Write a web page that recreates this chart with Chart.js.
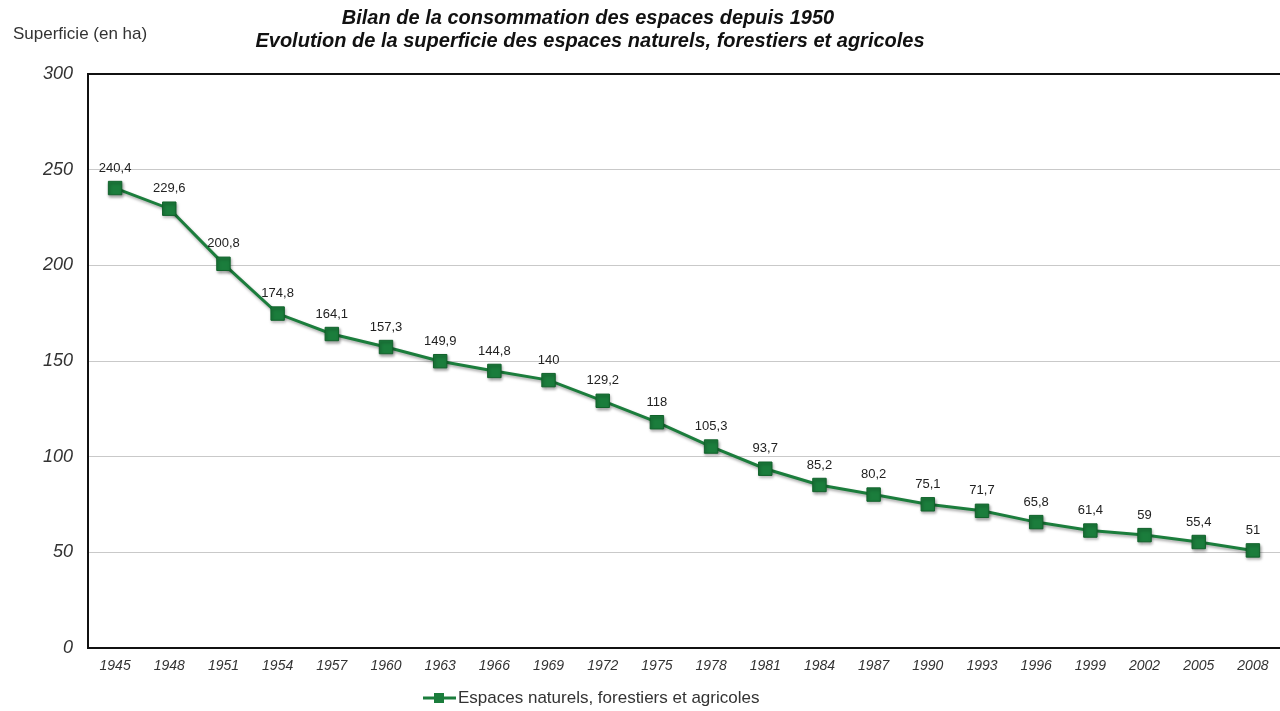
<!DOCTYPE html>
<html>
<head>
<meta charset="utf-8">
<script src="https://cdn.jsdelivr.net/npm/chart.js@4.4.1/dist/chart.umd.min.js"></script>
<style>
  html, body { margin: 0; padding: 0; background: #fff; }
  #wrap { width: 1280px; height: 711px; position: relative; }
</style>
</head>
<body>
<div id="wrap"><canvas id="c" width="1280" height="711"></canvas></div>
<script>
// Années (axe des abscisses)
const years = ['1945','1948','1951','1954','1957','1960','1963','1966','1969','1972','1975',
               '1978','1981','1984','1987','1990','1993','1996','1999','2002','2005','2008'];
// Superficie des espaces naturels, forestiers et agricoles (ha)
const superficie = [240.4, 229.6, 200.8, 174.8, 164.1, 157.3, 149.9, 144.8, 140, 129.2, 118,
                    105.3, 93.7, 85.2, 80.2, 75.1, 71.7, 65.8, 61.4, 59, 55.4, 51];
const seriesName = 'Espaces naturels, forestiers et agricoles';
const titleLines = ['Bilan de la consommation des espaces depuis 1950',
                    'Evolution de la superficie des espaces naturels, forestiers et agricoles'];
const yAxisLabel = 'Superficie (en ha)';
const yTicks = [0, 50, 100, 150, 200, 250, 300];

const GREEN = '#1b7d3c';
const GREEN_DARK = '#11622b';
const FONT = '"Liberation Sans", Arial, sans-serif';

// Ombre légère sous la courbe
const shadowPlugin = {
  id: 'shadow',
  beforeDatasetsDraw(chart) {
    const ctx = chart.ctx;
    ctx.save();
    ctx.shadowColor = 'rgba(0,0,0,0.35)';
    ctx.shadowBlur = 3;
    ctx.shadowOffsetX = 1;
    ctx.shadowOffsetY = 2;
  },
  afterDatasetsDraw(chart) { chart.ctx.restore(); }
};

// Cadre, titres, étiquettes de valeurs et légende
const decorPlugin = {
  id: 'decor',
  afterDraw(chart) {
    const ctx = chart.ctx;
    const a = chart.chartArea;
    ctx.save();
    // cadre de la zone de tracé
    ctx.strokeStyle = '#111';
    ctx.lineWidth = 2;
    ctx.beginPath();
    ctx.moveTo(a.right + 5, a.top);
    ctx.lineTo(a.left, a.top);
    ctx.lineTo(a.left, a.bottom);
    ctx.lineTo(a.right + 5, a.bottom);
    ctx.stroke();

    // titre
    ctx.fillStyle = '#111';
    ctx.textAlign = 'center';
    ctx.textBaseline = 'middle';
    ctx.font = 'italic bold 20px ' + FONT;
    ctx.fillText(titleLines[0], 588, 18);
    ctx.fillText(titleLines[1], 590, 41);

    // titre de l'axe vertical
    ctx.font = '17px ' + FONT;
    ctx.fillStyle = '#333';
    ctx.textAlign = 'left';
    ctx.fillText(yAxisLabel, 13, 34);

    // étiquettes des valeurs
    const meta = chart.getDatasetMeta(0);
    ctx.font = '13px ' + FONT;
    ctx.fillStyle = '#222';
    ctx.textAlign = 'center';
    meta.data.forEach((pt, i) => {
      const txt = String(superficie[i]).replace('.', ',');
      ctx.fillText(txt, pt.x, pt.y - 20);
    });

    // légende
    const ly = 698;
    const lx = 423;
    ctx.strokeStyle = GREEN;
    ctx.lineWidth = 3;
    ctx.beginPath();
    ctx.moveTo(lx, ly);
    ctx.lineTo(lx + 33, ly);
    ctx.stroke();
    ctx.fillStyle = GREEN;
    ctx.fillRect(lx + 11, ly - 5, 10, 10);
    ctx.font = '17px ' + FONT;
    ctx.fillStyle = '#333';
    ctx.textAlign = 'left';
    ctx.fillText(seriesName, lx + 35, ly);
    ctx.restore();
  }
};

new Chart(document.getElementById('c'), {
  type: 'line',
  data: {
    labels: years,
    datasets: [{
      label: seriesName,
      data: superficie,
      borderColor: GREEN,
      borderWidth: 3,
      pointStyle: 'rect',
      pointRadius: 9.5,
      pointBackgroundColor: GREEN,
      pointBorderColor: GREEN_DARK,
      pointBorderWidth: 1,
      tension: 0,
      clip: false
    }]
  },
  options: {
    responsive: false,
    animation: false,
    devicePixelRatio: 1,
    layout: { autoPadding: false, padding: { top: 74, left: 0, right: 0, bottom: 0 } },
    plugins: {
      legend: { display: false },
      title: { display: false },
      tooltip: { enabled: false }
    },
    scales: {
      x: {
        offset: true,
        grid: { display: false, drawTicks: false },
        border: { display: false },
        ticks: {
          color: '#333',
          font: { family: FONT, size: 14, style: 'italic' },
          padding: 10,
          maxRotation: 0,
          autoSkip: false
        },
        afterFit(scale) {
          scale.height = 63;
          scale.paddingLeft = 0;
          scale.paddingRight = 0;
        }
      },
      y: {
        min: 0,
        max: 300,
        afterBuildTicks(scale) { scale.ticks = yTicks.map(v => ({ value: v })); },
        grid: {
          color: (c) => (c.tick && (c.tick.value === 0 || c.tick.value === 300)) ? 'rgba(0,0,0,0)' : '#c9c9c9',
          lineWidth: 1,
          drawTicks: false
        },
        border: { display: false },
        ticks: {
          color: '#333',
          font: { family: FONT, size: 18, style: 'italic' },
          padding: 15
        },
        afterFit(scale) {
          scale.width = 88;
          scale.paddingTop = 0;
          scale.paddingBottom = 0;
        }
      }
    }
  },
  plugins: [shadowPlugin, decorPlugin]
});
</script>
</body>
</html>
